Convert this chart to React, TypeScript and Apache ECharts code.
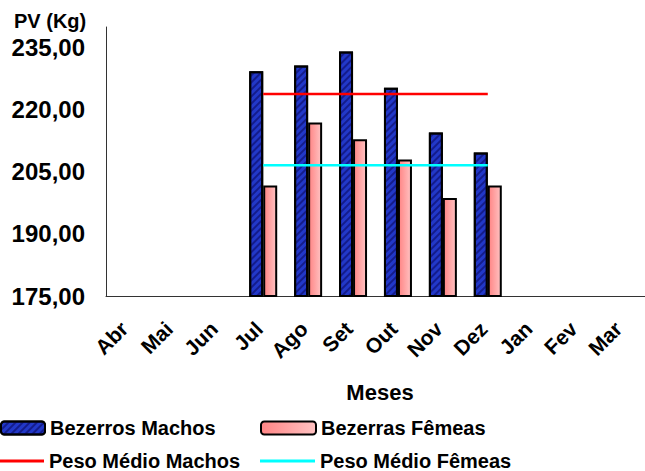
import React, { useEffect, useRef } from "react";
import * as echarts from "echarts";

const months = ["Abr", "Mai", "Jun", "Jul", "Ago", "Set", "Out", "Nov", "Dez", "Jan", "Fev", "Mar"];
const machos = [null, null, null, 229.3, 230.7, 234.1, 225.3, 214.5, 209.7, null, null, null];
const femeas = [null, null, null, 201.7, 216.9, 212.9, 208.0, 198.7, 201.7, null, null, null];
const mediaMachos = [null, null, null, 223.8, 223.8, 223.8, 223.8, 223.8, 223.8, null, null, null];
const mediaFemeas = [null, null, null, 206.6, 206.6, 206.6, 206.6, 206.6, 206.6, null, null, null];
const yMin = 175;
const yMax = 240;
const yStep = 15;

const FONT = "'Liberation Sans', Arial, Helvetica, sans-serif";

export default function App() {
  const ref = useRef<HTMLDivElement>(null);
  useEffect(() => {
    if (!ref.current) return;
    const chart = echarts.init(ref.current, null, { renderer: "svg" });
    const legendText = { fontFamily: FONT, fontWeight: "bold", fontSize: 20, color: "#000", lineHeight: 22 };
    chart.setOption({
      animation: false,
      backgroundColor: "#fff",
      grid: { left: 106, top: 27, width: 546, height: 269, containLabel: false },
      xAxis: {
        type: "category",
        data: months,
        axisLine: { show: true, lineStyle: { color: "#333", width: 1 } },
        axisTick: { show: false },
        axisLabel: {
          interval: 0,
          rotate: 45,
          margin: 25,
          padding: [0, 6, 0, 0],
          fontFamily: FONT,
          fontWeight: "bold",
          fontSize: 21,
          color: "#000",
        },
        splitLine: { show: false },
      },
      yAxis: {
        type: "value",
        min: yMin,
        max: yMax,
        interval: yStep,
        axisLine: { show: true, lineStyle: { color: "#333", width: 1 } },
        axisTick: { show: false },
        splitLine: { show: false },
        axisLabel: {
          showMaxLabel: false,
          margin: 21,
          fontFamily: FONT,
          fontWeight: "bold",
          fontSize: 24,
          color: "#000",
          formatter: (v: number) => v.toFixed(2).replace(".", ","),
        },
      },
      legend: [
        {
          data: ["Bezerros Machos"],
          left: 0,
          top: 417,
          padding: 0,
          itemWidth: 44,
          itemHeight: 13,
          textStyle: legendText,
        },
        {
          data: ["Bezerras Fêmeas"],
          left: 260,
          top: 417,
          padding: 0,
          itemWidth: 55,
          itemHeight: 13,
          textStyle: legendText,
        },
        {
          data: ["Peso Médio Machos"],
          left: 0,
          top: 450,
          padding: 0,
          icon: "rect",
          itemWidth: 44,
          itemHeight: 3,
          textStyle: legendText,
        },
        {
          data: ["Peso Médio Fêmeas"],
          left: 260,
          top: 450,
          padding: 0,
          icon: "rect",
          itemWidth: 55,
          itemHeight: 3,
          textStyle: legendText,
        },
      ],
      graphic: [
        {
          type: "text",
          left: 14,
          top: 11,
          style: { text: "PV (Kg)", font: `bold 20px ${FONT}`, fill: "#000" },
        },
        {
          type: "text",
          x: 380,
          y: 392,
          style: {
            text: "Meses",
            font: `bold 22px ${FONT}`,
            fill: "#000",
            textAlign: "center",
            textVerticalAlign: "middle",
          },
        },
      ],
      series: [
        {
          name: "Bezerros Machos",
          type: "bar",
          data: machos,
          barWidth: 14,
          barGap: "0%",
          itemStyle: {
            color: "#2238c8",
            borderColor: "#000",
            borderWidth: 2,
            decal: {
              symbol: "rect",
              symbolSize: 1,
              dashArrayX: [1, 0],
              dashArrayY: [1.5, 2.2],
              rotation: -Math.PI / 4,
              color: "rgba(10,10,100,0.6)",
            },
          },
          z: 2,
        },
        {
          name: "Bezerras Fêmeas",
          type: "bar",
          data: femeas,
          barWidth: 14,
          barGap: "0%",
          itemStyle: {
            color: new echarts.graphic.LinearGradient(0, 0, 1, 0, [
              { offset: 0, color: "#ff8585" },
              { offset: 1, color: "#ffc2c2" },
            ]),
            borderColor: "#000",
            borderWidth: 2,
          },
          z: 2,
        },
        {
          name: "Peso Médio Machos",
          type: "line",
          data: mediaMachos,
          symbol: "none",
          lineStyle: { color: "#ff0000", width: 2.5 },
          itemStyle: { color: "#ff0000" },
          z: 3,
        },
        {
          name: "Peso Médio Fêmeas",
          type: "line",
          data: mediaFemeas,
          symbol: "none",
          lineStyle: { color: "#00ffff", width: 2.5 },
          itemStyle: { color: "#00ffff" },
          z: 3,
        },
      ],
    });
    return () => chart.dispose();
  }, []);
  return (
    <div
      ref={ref}
      style={{ position: "absolute", left: 0, top: 0, width: 645, height: 471 }}
    />
  );
}
